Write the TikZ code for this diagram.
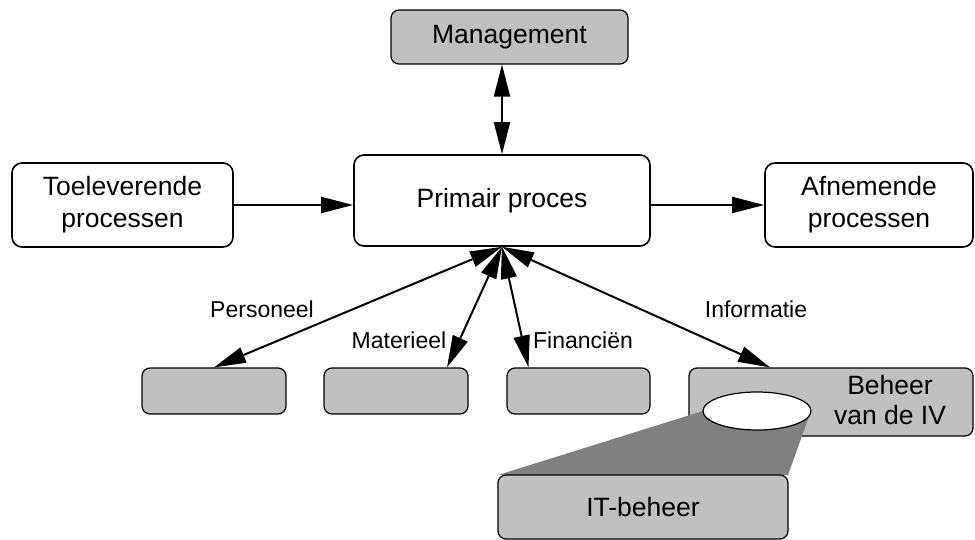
\documentclass[tikz,border=0pt]{standalone}
\usepackage{fontspec}
\setmainfont{Liberation Sans}
\usetikzlibrary{arrows.meta,shapes.geometric}
\definecolor{boxgray}{HTML}{C0C0C0}
\definecolor{shadegray}{HTML}{808080}

\begin{document}
\begin{tikzpicture}[x=1pt,y=-1pt,>={Triangle[length=32pt,width=16pt]},line width=2pt,
  main node/.style={draw,rounded corners=10pt,line width=1.6pt,align=center,inner sep=0pt,font=\fontsize{26.5}{32}\selectfont},
  gray node/.style={main node,fill=boxgray,line width=1.2pt,rounded corners=8pt},
  label text/.style={font=\fontsize{23}{27}\selectfont}]

                \useasboundingbox (0,0) rectangle (975,540);

                \node[gray node, minimum width=237pt, minimum height=54pt] (1) at (509.5,37) {Management};
                \node[main node, minimum width=296pt, minimum height=91pt] (2) at (502,200.5) {Primair proces};
                \node[main node, minimum width=221pt, minimum height=84pt] (3) at (122.5,205) {Toeleverende\\processen};
                \node[main node, minimum width=208pt, minimum height=84pt] (4) at (869,205) {Afnemende\\processen};
                \node[gray node, minimum width=144pt, minimum height=46pt] (5) at (214,391) {};
                \node[gray node, minimum width=144pt, minimum height=46pt] (6) at (396,391) {};
                \node[gray node, minimum width=143pt, minimum height=46pt] (7) at (578.5,391) {};
                \node[gray node, minimum width=284pt, minimum height=68pt] (8) at (831,402) {};
                \node[align=center, font=\fontsize{26.5}{30}\selectfont] (9) at (890,400) {Beheer\\van de IV};

                % zoom op beheer
                \coordinate (a) at (703,411);
                \coordinate (b) at (498,475);
                \coordinate (c) at (788,475);
                \coordinate (d) at (811,411);
                \fill[shadegray] (a) -- (b) -- (c) -- (d) -- cycle;
                \node[ellipse, draw, fill=white, line width=1.2pt, minimum width=108pt, minimum height=38pt, inner sep=0pt] (10) at (757,411) {};
                \node[gray node, minimum width=290pt, minimum height=64pt] (11) at (643,507) {IT-beheer};

                \draw[<->] (2.north) to (2.north |- 1.south);
                \draw[->] (3.east) to (3.east -| 2.west);
                \draw[->] (2.east |- 4.west) to (4.west);
                \draw[<->] (2.south) to (5.north);
                \draw[<->] (2.south) to ([xshift=51pt]6.north);
                \draw[<->] (2.south) to ([xshift=-50pt]7.north);
                \draw[<->] (2.south) to ([xshift=-61pt]8.north);

                \node[label text] (12) at (262,309) {Personeel};
                \node[label text] (13) at (399,340) {Materieel};
                \node[label text] (14) at (583,340) {Financiën};
                \node[label text] (15) at (756,309) {Informatie};

                ;
            \end{tikzpicture}
\end{document}
